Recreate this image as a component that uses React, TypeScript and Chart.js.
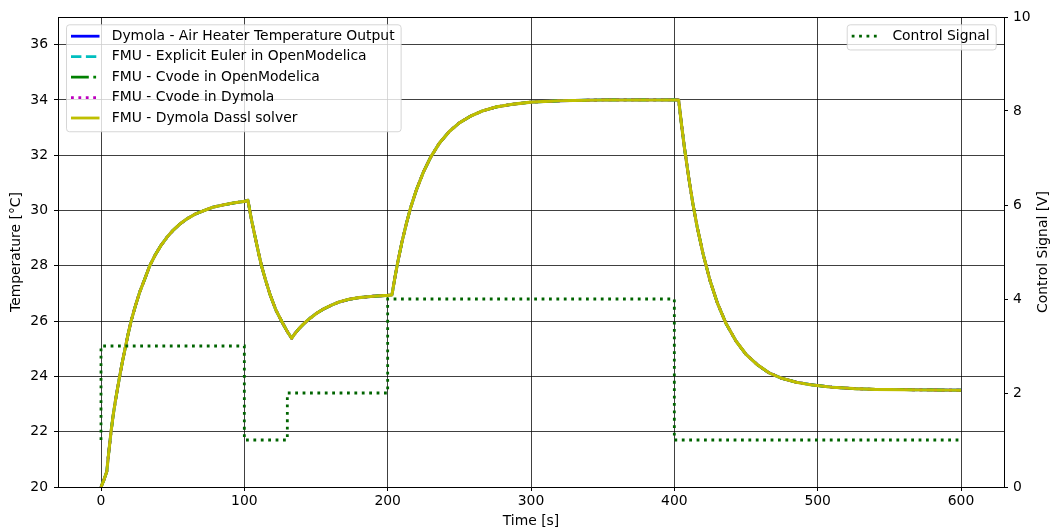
import React, { useEffect, useRef } from 'react';
import { Chart, registerables } from 'chart.js';

Chart.register(...registerables);

// ---- data ----
const timeS = [
  0, 2, 4, 5.5, 7, 8.5, 10, 11.5, 13, 15, 17, 19, 21, 24, 27, 30, 34, 38, 42, 46, 50, 55, 60, 66, 72, 78, 85, 92, 100, 102.5,
  105, 107.5, 110, 112, 115, 118, 122, 126.5, 130, 133,
  135, 138, 141, 145, 150, 155, 160, 166, 173, 180, 190, 200, 203,
  205, 207, 210, 213, 216, 220, 225, 230, 236, 243, 250, 258, 266, 276, 288, 300, 320, 350, 400, 403,
  405, 407, 410, 413, 416, 420, 425, 430, 436, 443, 450, 458, 466, 475, 485, 495, 510, 525, 540, 560, 580, 600,
];
const airHeaterTemp = [
  20.0, 20.25, 20.55, 21.3, 22.0, 22.6, 23.1, 23.55, 24.0, 24.55, 25.05, 25.55, 26.0, 26.55, 27.05, 27.45, 28.0, 28.41, 28.75, 29.03, 29.27, 29.51, 29.7, 29.88, 30.0, 30.12, 30.2, 30.27, 30.33, 30.37,
  29.66, 29.05, 28.45, 28.0, 27.45, 26.95, 26.4, 25.95, 25.62, 25.38,
  25.53, 25.72, 25.88, 26.07, 26.27, 26.43, 26.56, 26.69, 26.79, 26.85, 26.9, 26.93, 26.95,
  27.56, 28.12, 28.87, 29.52, 30.1, 30.74, 31.4, 31.93, 32.43, 32.86, 33.17, 33.42, 33.6, 33.75, 33.85, 33.92, 33.97, 34.0, 34.0, 34.0,
  33.11, 32.29, 31.2, 30.23, 29.39, 28.44, 27.45, 26.66, 25.92, 25.28, 24.8, 24.42, 24.13, 23.93, 23.79, 23.7, 23.61, 23.56, 23.53, 23.52, 23.51, 23.5,
];
const controlTime = [0, 0, 100, 100, 130, 130, 200, 200, 400, 400, 600];
const controlSignal = [1, 3, 3, 1, 1, 2, 2, 4, 4, 1, 1];

const timeTicks = [0, 100, 200, 300, 400, 500, 600];
const tempTicks = [20, 22, 24, 26, 28, 30, 32, 34, 36];
const controlTicks = [0, 2, 4, 6, 8, 10];

const tempLabels = [
  'Dymola - Air Heater Temperature Output',
  'FMU - Explicit Euler in OpenModelica',
  'FMU - Cvode in OpenModelica',
  'FMU - Cvode in Dymola',
  'FMU - Dymola Dassl solver',
];
const tempColors = ['#0000ff', '#00bfbf', '#008000', '#bf00bf', '#bfbf00'];
const tempDashes: number[][] = [[], [10.4, 4.5], [17.8, 4.5, 2.8, 4.5], [2.8, 4.6], []];
const tempWidths = [2.8, 2.8, 2.8, 2.8, 3.1];
const controlLabel = 'Control Signal';
const controlColor = '#006400';

const FONT = '"DejaVu Sans", sans-serif';
const FS = 13.9;

function drawLegend(ctx: CanvasRenderingContext2D, left: number, top: number, entries: any[]) {
  ctx.save();
  ctx.font = `${FS}px ${FONT}`;
  let maxW = 0;
  entries.forEach((e) => { maxW = Math.max(maxW, ctx.measureText(e.label).width); });
  const w = 45.7 + maxW + 6;
  const rowH = 20.45;
  const h = 4.7 + entries.length * rowH;
  let x = left;
  if (left < 0) x = -left - w;
  ctx.beginPath();
  (ctx as any).roundRect(x + 0.5, top + 0.5, w, h, 3);
  ctx.fillStyle = 'rgba(255,255,255,0.8)';
  ctx.fill();
  ctx.strokeStyle = 'rgba(204,204,204,0.8)';
  ctx.lineWidth = 1;
  ctx.stroke();
  entries.forEach((e, i) => {
    const cy = top + 11.9 + i * rowH;
    ctx.beginPath();
    ctx.setLineDash(e.dash);
    ctx.strokeStyle = e.color;
    ctx.lineWidth = e.width;
    ctx.lineCap = 'butt';
    ctx.moveTo(x + 5, cy);
    ctx.lineTo(x + 33.5, cy);
    ctx.stroke();
    ctx.setLineDash([]);
    ctx.fillStyle = '#000';
    ctx.textBaseline = 'middle';
    ctx.textAlign = 'left';
    ctx.fillText(e.label, x + 45.7, cy);
  });
  ctx.restore();
}

const overlayPlugin = {
  id: 'overlay',
  afterDraw(chart: any) {
    const ctx: CanvasRenderingContext2D = chart.ctx;
    const a = chart.chartArea;
    ctx.save();
    ctx.strokeStyle = '#000';
    ctx.lineWidth = 1;
    ctx.beginPath();
    ctx.moveTo(a.left, Math.round(a.top) + 0.5);
    ctx.lineTo(a.right, Math.round(a.top) + 0.5);
    ctx.stroke();
    // right axis title, reading bottom-to-top like the reference
    ctx.translate(1043, (a.top + a.bottom) / 2);
    ctx.rotate(-Math.PI / 2);
    ctx.font = `${FS}px ${FONT}`;
    ctx.fillStyle = '#000';
    ctx.textAlign = 'center';
    ctx.textBaseline = 'middle';
    ctx.fillText('Control Signal [V]', 0, 0);
    ctx.restore();
    drawLegend(ctx, a.left + 8, a.top + 7.3, tempLabels.map((l, i) => ({
      label: l, color: tempColors[i], dash: tempDashes[i], width: 2.8,
    })));
    drawLegend(ctx, -(a.right - 8.3), a.top + 7.3, [{
      label: controlLabel, color: controlColor, dash: [2.8, 4.6], width: 2.8,
    }]);
  },
};

export default function App() {
  const ref = useRef<HTMLCanvasElement>(null);
  useEffect(() => {
    document.body.style.margin = '0';
    const canvas = ref.current!;
    const tempSets = tempLabels.map((label, i) => ({
      label,
      data: timeS.map((t, k) => ({ x: t, y: airHeaterTemp[k] })),
      borderColor: tempColors[i],
      backgroundColor: tempColors[i],
      borderDash: tempDashes[i],
      borderWidth: tempWidths[i],
      borderJoinStyle: 'round',
      pointRadius: 0,
      tension: 0,
      fill: false,
      yAxisID: 'y',
      order: 5 - i,
    }));
    const controlSet = {
      label: controlLabel,
      data: controlTime.map((t, k) => ({ x: t, y: controlSignal[k] })),
      borderColor: controlColor,
      backgroundColor: controlColor,
      borderDash: [2.8, 4.6],
      borderWidth: 2.8,
      borderCapStyle: 'butt',
      pointRadius: 0,
      tension: 0,
      fill: false,
      yAxisID: 'y2',
      order: 0,
    };
    const tickFont = { family: FONT, size: FS };
    const chart = new Chart(canvas, {
      type: 'line',
      data: { datasets: [...tempSets, controlSet] as any },
      options: {
        animation: false,
        responsive: false,
        layout: { padding: { top: 17, left: 0, right: 0, bottom: 0 } },
        plugins: { legend: { display: false }, tooltip: { enabled: false } },
        scales: {
          x: {
            type: 'linear',
            min: -30,
            max: 630,
            afterBuildTicks: (s: any) => { s.ticks = timeTicks.map((v) => ({ value: v })); },
            afterFit: (s: any) => { s.height = 43; },
            ticks: { color: '#000', font: tickFont, padding: 2, maxRotation: 0, callback: (v: any) => String(v) },
            grid: { color: 'rgba(0,0,0,0.75)', lineWidth: 1, tickColor: '#000', tickLength: 4 },
            border: { color: '#000', width: 1 },
            title: { display: true, text: 'Time [s]', color: '#000', font: tickFont, padding: { top: 0, bottom: 0 } },
          },
          y: {
            type: 'linear',
            position: 'left',
            min: 20,
            max: 37,
            afterBuildTicks: (s: any) => { s.ticks = tempTicks.map((v) => ({ value: v })); },
            afterFit: (s: any) => { s.width = 58; },
            ticks: { color: '#000', font: tickFont, padding: 6, callback: (v: any) => String(v) },
            grid: { color: 'rgba(0,0,0,0.75)', lineWidth: 1, tickColor: '#000', tickLength: 4 },
            border: { color: '#000', width: 1 },
            title: { display: true, text: 'Temperature [°C]', color: '#000', font: tickFont, padding: { top: 8.4, bottom: 0 } },
          },
          y2: {
            type: 'linear',
            position: 'right',
            min: 0,
            max: 10,
            afterBuildTicks: (s: any) => { s.ticks = controlTicks.map((v) => ({ value: v })); },
            afterFit: (s: any) => { s.width = 49; },
            ticks: { color: '#000', font: tickFont, padding: 5, callback: (v: any) => String(v) },
            grid: { drawOnChartArea: false, tickColor: '#000', tickLength: 4 },
            border: { color: '#000', width: 1 },
            title: { display: false },
          },
        },
      } as any,
      plugins: [overlayPlugin],
    });
    return () => chart.destroy();
  }, []);
  return (
    <div style={{ width: 1053, height: 530 }}>
      <canvas ref={ref} width={1053} height={530} style={{ display: 'block' }} />
    </div>
  );
}
